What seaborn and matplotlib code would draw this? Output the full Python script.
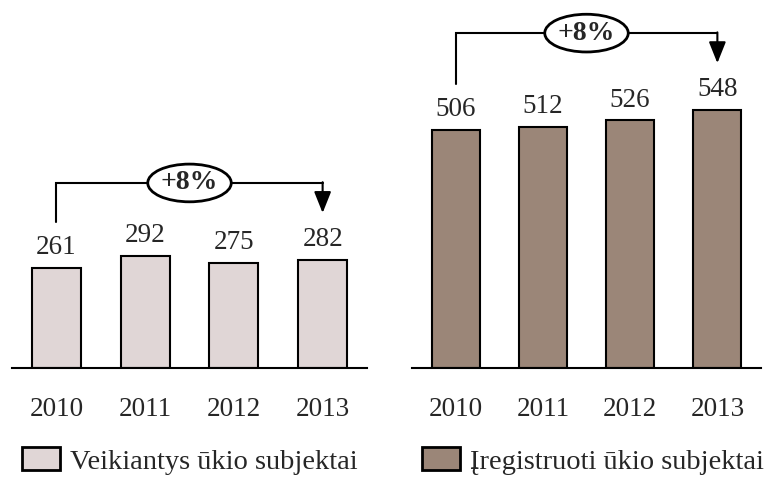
import pandas as pd
import seaborn as sns
import matplotlib.pyplot as plt
from matplotlib.patches import Patch

# Data
years = ['2010', '2011', '2012', '2013']
active = [261, 292, 275, 282]
registered = [506, 512, 526, 548]
growth_active = '+8%'
growth_registered = '+8%'
label_active = 'Veikiantys ūkio subjektai'
label_registered = 'Įregistruoti ūkio subjektai'

col_active = '#e0d6d6'
col_registered = '#9b8678'

sns.set_style('white')
plt.rcParams['font.family'] = ['Liberation Serif', 'DejaVu Serif']

W, H = 769, 480
fig = plt.figure(figsize=(W / 100, H / 100), dpi=100)

base_px = 368
top_px = 10
ax_h = base_px - top_px


def panel(left_px, right_px, values, color, ytop, growth):
    ax = fig.add_axes([left_px / W, (H - base_px) / H, (right_px - left_px) / W, ax_h / H])
    df = pd.DataFrame({'year': years, 'value': values})
    sns.barplot(data=df, x='year', y='value', ax=ax, color=color,
                edgecolor='black', linewidth=1.5, width=0.55, saturation=1)
    ax.set_xlim(-0.5, 3.5)
    ax.set_ylim(0, ytop)
    for s in ['top', 'left', 'right']:
        ax.spines[s].set_visible(False)
    ax.spines['bottom'].set_linewidth(1.5)
    ax.spines['bottom'].set_color('black')
    ax.set_xlabel('')
    ax.set_ylabel('')
    ax.set_yticks([])
    ax.tick_params(axis='x', length=0, pad=21, labelsize=19.5)

    for i, v in enumerate(values):
        ax.annotate(str(v), (i, v), xytext=(0, 10), textcoords='offset points',
                    ha='center', va='baseline', fontsize=19.5)

    # bracket with arrow, in pixel offsets above the bars
    k = ytop / ax_h
    start = values[0] + 46 * k
    tip = values[-1] + 47 * k
    level = tip + 30 * k
    n = len(values) - 1
    ax.plot([0, 0, n], [start, level, level], color='black', lw=1.5,
            solid_joinstyle='miter', clip_on=False)
    ax.annotate('', xy=(n, tip), xytext=(n, level + 0.75 * k),
                arrowprops=dict(arrowstyle='-|>,head_length=0.65,head_width=0.26',
                                mutation_scale=20, color='black', lw=1.5,
                                shrinkA=0, shrinkB=0),
                annotation_clip=False)
    ax.text(n / 2, level, growth, ha='center', va='center', fontsize=20,
            fontweight='bold',
            bbox=dict(boxstyle='ellipse,pad=0.03', fc='white', ec='black', lw=2))
    return ax


panel(12, 367, active, col_active, 2.61 * ax_h, growth_active)
panel(412, 761, registered, col_registered, 2.125 * ax_h, growth_registered)

for x_px, lab, c in [(22, label_active, col_active), (422, label_registered, col_registered)]:
    fig.legend(handles=[Patch(facecolor=c, edgecolor='black', linewidth=2, label=lab)],
               loc='center left', bbox_to_anchor=(x_px / W, 1 - 461 / H),
               frameon=False, fontsize=20.5, borderpad=0, borderaxespad=0,
               handlelength=1.35, handleheight=0.85, handletextpad=0.35)

fig.savefig('out.png', dpi=100)
